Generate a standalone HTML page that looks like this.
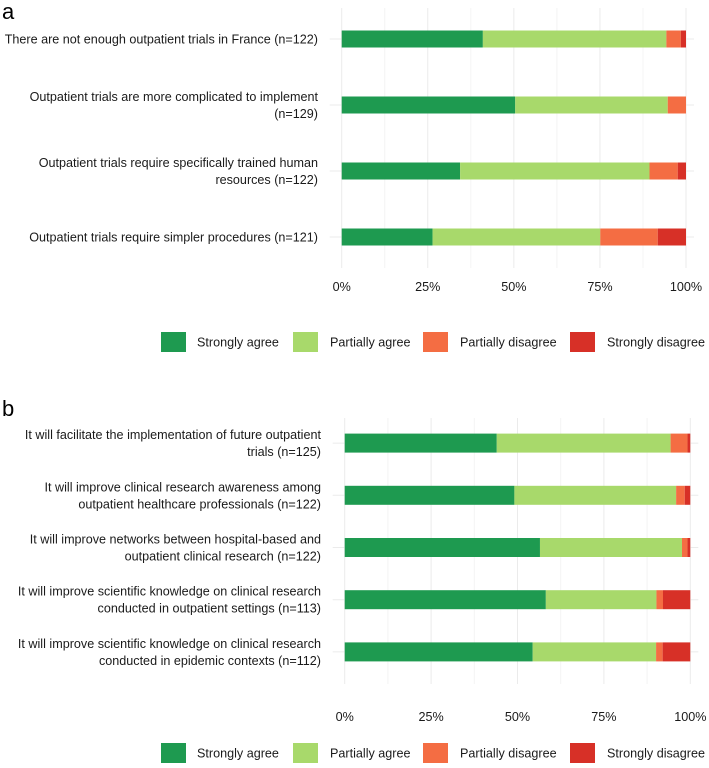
<!DOCTYPE html>
<html><head><meta charset="utf-8"><style>
html,body{margin:0;padding:0;background:#fff;}
svg{display:block;font-family:"Liberation Sans",sans-serif;}
</style></head><body>
<svg id="chart" width="709" height="768" viewBox="0 0 709 768"></svg>
<script>
const categoriesA = [
  ["There are not enough outpatient trials in France (n=122)"],
  ["Outpatient trials are more complicated to implement","(n=129)"],
  ["Outpatient trials require specifically trained human","resources (n=122)"],
  ["Outpatient trials require simpler procedures (n=121)"]
];
const stronglyAgreeA = [41.0, 50.4, 34.4, 26.4];
const partiallyAgreeA = [53.3, 44.3, 55.0, 48.7];
const partiallyDisagreeA = [4.2, 5.3, 8.2, 16.7];
const stronglyDisagreeA = [1.5, 0, 2.4, 8.2];

const categoriesB = [
  ["It will facilitate the implementation of future outpatient","trials (n=125)"],
  ["It will improve clinical research awareness among","outpatient healthcare professionals (n=122)"],
  ["It will improve networks between hospital-based and","outpatient clinical research (n=122)"],
  ["It will improve scientific knowledge on clinical research","conducted in outpatient settings (n=113)"],
  ["It will improve scientific knowledge on clinical research","conducted in epidemic contexts (n=112)"]
];
const stronglyAgreeB = [44.0, 49.1, 56.5, 58.2, 54.4];
const partiallyAgreeB = [50.3, 46.8, 41.1, 32.0, 35.7];
const partiallyDisagreeB = [4.9, 2.5, 1.6, 1.9, 1.9];
const stronglyDisagreeB = [0.8, 1.6, 0.8, 7.9, 8.0];

const tickValues = [0, 25, 50, 75, 100];
const tickLabels = ["0%", "25%", "50%", "75%", "100%"];
const legendLabels = ["Strongly agree", "Partially agree", "Partially disagree", "Strongly disagree"];
const colors = ["#1e9a50", "#a8d96b", "#f46d43", "#d73027"];

const NS = "http://www.w3.org/2000/svg";
const svg = document.getElementById("chart");
function mk(tag, attrs, parent) {
  const e = document.createElementNS(NS, tag);
  for (const k in attrs) e.setAttribute(k, attrs[k]);
  (parent || svg).appendChild(e);
  return e;
}

function panel(cfg) {
  const g = mk("g", {});
  
  
  const x = v => cfg.x0 + (v / 100) * (cfg.x1 - cfg.x0);
  const n = cfg.cats.length;
  const step = (cfg.yBottom - cfg.yTop) / n;
  const yc = i => cfg.yTop + step * (i + 0.5);
  for (let v = 0; v <= 100; v += 12.5) {
    const l = mk("line", {x1: x(v), x2: x(v), y1: cfg.gridTop, y2: cfg.gridBottom, stroke: v % 25 === 0 ? "#ebebeb" : "#f4f4f4", "stroke-width": 1}, g);
    
    
  }
  for (let i = 0; i < n; i++) {
    const l = mk("line", {x1: cfg.x0 - 12, x2: cfg.x1 + 8, y1: yc(i), y2: yc(i), stroke: "#ebebeb", "stroke-width": 1}, g);
    
    
  }
  const series = cfg.series;
  const segNames = ["strongly-agree", "partially-agree", "partially-disagree", "strongly-disagree"];
  for (let i = 0; i < n; i++) {
    let acc = 0;
    for (let s = 0; s < 4; s++) {
      const v = series[s][i];
      if (v > 0) {
        const r = mk("rect", {x: x(acc), y: yc(i) - cfg.barH / 2, width: x(acc + v) - x(acc), height: cfg.barH, fill: colors[s]}, g);
        
        
      }
      acc += v;
    }
    const lines = cfg.cats[i];
    const lh = 17;
    const t = mk("text", {x: cfg.labelX, y: yc(i) - (lines.length - 1) * lh / 2 + 4.5, "text-anchor": "end", "font-size": "12.6", fill: "#1a1a1a"}, g);
    
    
    lines.forEach((ln, k) => {
      const ts = mk("tspan", {x: cfg.labelX, dy: k === 0 ? 0 : lh}, t);
      ts.textContent = ln;
    });
  }
  tickValues.forEach((v, k) => {
    const t = mk("text", {x: x(v), y: cfg.tickY, "text-anchor": "middle", "font-size": "12.6", fill: "#1a1a1a"}, g);
    
    
    t.textContent = tickLabels[k];
  });
  const lg = mk("g", {}, g);
  
  
  const swX = [161, 293, 423, 570];
  const txtOff = [36, 37, 37, 37];
  legendLabels.forEach((lab, k) => {
    const r = mk("rect", {x: swX[k], y: cfg.legendY - 10, width: 25, height: 20, fill: colors[k]}, lg);
    
    
    const t = mk("text", {x: swX[k] + txtOff[k], y: cfg.legendY + 4.5, "font-size": "12.6", fill: "#1a1a1a"}, lg);
    
    
    t.textContent = lab;
  });
  const pl = mk("text", {x: 2, y: cfg.letterY, "font-size": "22", fill: "#000"}, g);
  
  
  pl.textContent = cfg.letter;
}

panel({name: "panel-a", letter: "a", letterY: 19, cats: categoriesA,
  series: [stronglyAgreeA, partiallyAgreeA, partiallyDisagreeA, stronglyDisagreeA],
  x0: 341.7, x1: 686, yTop: 6, yBottom: 270, gridTop: 8, gridBottom: 268, barH: 17,
  labelX: 318, tickY: 291, legendY: 342});
panel({name: "panel-b", letter: "b", letterY: 416, cats: categoriesB,
  series: [stronglyAgreeB, partiallyAgreeB, partiallyDisagreeB, stronglyDisagreeB],
  x0: 344.7, x1: 690.3, yTop: 417, yBottom: 678, gridTop: 418, gridBottom: 684, barH: 19,
  labelX: 321, tickY: 721, legendY: 753});
</script>
</body></html>
